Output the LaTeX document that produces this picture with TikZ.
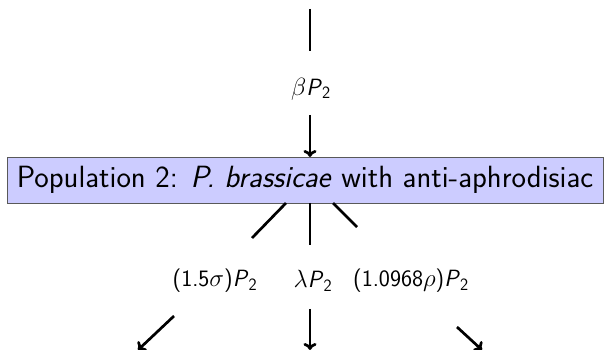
\documentclass[tikz,border=0pt]{standalone}
\usetikzlibrary{arrows.meta}
\tikzset{
  flow/.style={line width=2.7pt},
  flowarrow/.style={line width=2.7pt,-{To[length=7pt,width=13pt]}},
  popbox/.style={draw=black!65,line width=0.8pt,fill=blue!20,inner sep=0pt,
    minimum width=596pt,minimum height=46pt,font=\fontsize{30.7}{34}\selectfont\sffamily},
  lab/.style={font=\fontsize{23.5}{27}\selectfont\sffamily,inner sep=1pt}
}
\newcommand{\Ptwo}{\textit{P}$_{\mathsf{2}}$}
\begin{document}
\begin{tikzpicture}[x=1pt,y=-1pt]
\useasboundingbox (0,0) rectangle (606,350);
\node[popbox] (box) at (305,180) {Population 2: \textit{P. brassicae} with anti-aphrodisiac};
\coordinate (t0) at (310,9);
\coordinate (t1) at (310,51);
\coordinate (a0) at (310,115);
\coordinate (a1) at (310,157);
\node[lab] (lb) at (311,89) {$\beta$\Ptwo};
\draw[flow] (t0) -- (t1);
\draw[flowarrow] (a0) -- (a1);
% lines out of box
\coordinate (l0) at (286,203);
\coordinate (l1) at (252,238);
\coordinate (c0) at (310,203);
\coordinate (c1) at (310,245);
\coordinate (r0) at (333,203);
\coordinate (r1) at (357,227);
\draw[flow] (l0) -- (l1);
\draw[flow] (c0) -- (c1);
\draw[flow] (r0) -- (r1);
\node[lab] (ls) at (215,281) {(1.5$\sigma$)\Ptwo};
\node[lab] (ll) at (313,281) {$\lambda$\Ptwo};
\node[lab] (lr) at (411,281) {(1.0968$\rho$)\Ptwo};
\coordinate (bl0) at (174,316);
\coordinate (bl1) at (138,350);
\coordinate (bc0) at (310,309);
\coordinate (bc1) at (310,350);
\coordinate (br0) at (457,327);
\coordinate (br1) at (482,350);
\draw[flowarrow] (bl0) -- (bl1);
\draw[flowarrow] (bc0) -- (bc1);
\draw[flowarrow] (br0) -- (br1);
\end{tikzpicture}
\end{document}
